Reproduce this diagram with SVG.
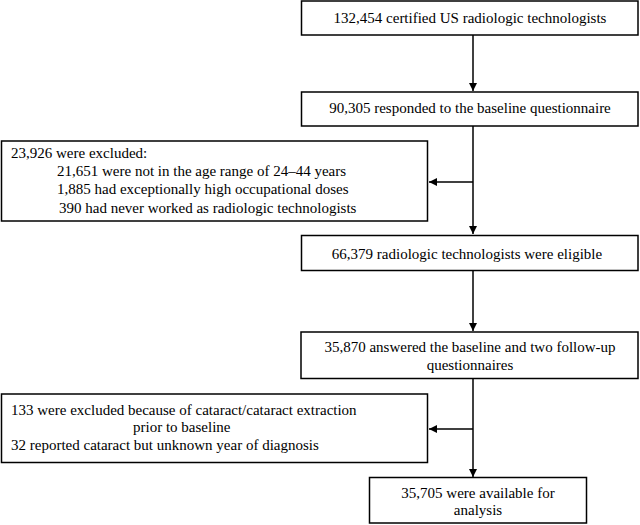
<svg xmlns="http://www.w3.org/2000/svg" width="640" height="525" viewBox="0 0 640 525">
<style>
.box{fill:#fff;stroke:#000;stroke-width:1.5}
text{font-family:"Liberation Serif","Times New Roman",serif;font-size:15px;fill:#000}
.c{text-anchor:middle}
.ln{stroke:#000;stroke-width:1.5;fill:none}
</style>
<defs>
<marker id="ah" viewBox="0 0 10 10" refX="10" refY="5" markerWidth="8" markerHeight="8" markerUnits="userSpaceOnUse" orient="auto">
<path d="M0,0 L10,5 L0,10 z" fill="#000"/>
</marker>
</defs>
<g id="connectors">
<line class="ln" x1="473" y1="35" x2="473" y2="91" marker-end="url(#ah)"/>
<line class="ln" x1="473" y1="126" x2="473" y2="234" marker-end="url(#ah)"/>
<line class="ln" x1="473" y1="182" x2="429" y2="182" marker-end="url(#ah)"/>
<line class="ln" x1="473" y1="271" x2="473" y2="331" marker-end="url(#ah)"/>
<line class="ln" x1="473" y1="378" x2="473" y2="477" marker-end="url(#ah)"/>
<line class="ln" x1="473" y1="429" x2="429" y2="429" marker-end="url(#ah)"/>
</g>
<g id="n1">
<rect class="box" x="301.5" y="1" width="336.5" height="34"/>
<text class="c" x="470" y="23">132,454 certified US radiologic technologists</text>
</g>
<g id="n2">
<rect class="box" x="301.5" y="92" width="336.5" height="34"/>
<text class="c" x="470" y="113">90,305 responded to the baseline questionnaire</text>
</g>
<g id="x1">
<rect class="box" x="1.5" y="141" width="426" height="80"/>
<text x="11" y="158">23,926 were excluded:</text>
<text x="57" y="176">21,651 were not in the age range of 24–44 years</text>
<text x="57" y="194">1,885 had exceptionally high occupational doses</text>
<text x="59" y="213">390 had never worked as radiologic technologists</text>
</g>
<g id="n3">
<rect class="box" x="301.5" y="235.5" width="336.5" height="35"/>
<text class="c" x="467" y="258.5">66,379 radiologic technologists were eligible</text>
</g>
<g id="n4">
<rect class="box" x="301" y="332" width="337" height="46.5"/>
<text class="c" x="470" y="352">35,870 answered the baseline and two follow-up</text>
<text class="c" x="470" y="370">questionnaires</text>
</g>
<g id="x2">
<rect class="box" x="1.5" y="394" width="426" height="68.5"/>
<text x="11" y="415">133 were excluded because of cataract/cataract extraction</text>
<text x="133" y="432">prior to baseline</text>
<text x="11" y="450">32 reported cataract but unknown year of diagnosis</text>
</g>
<g id="n5">
<rect class="box" x="369.5" y="477.5" width="217" height="45.5"/>
<text class="c" x="478" y="498">35,705 were available for</text>
<text class="c" x="478" y="515">analysis</text>
</g>
</svg>
